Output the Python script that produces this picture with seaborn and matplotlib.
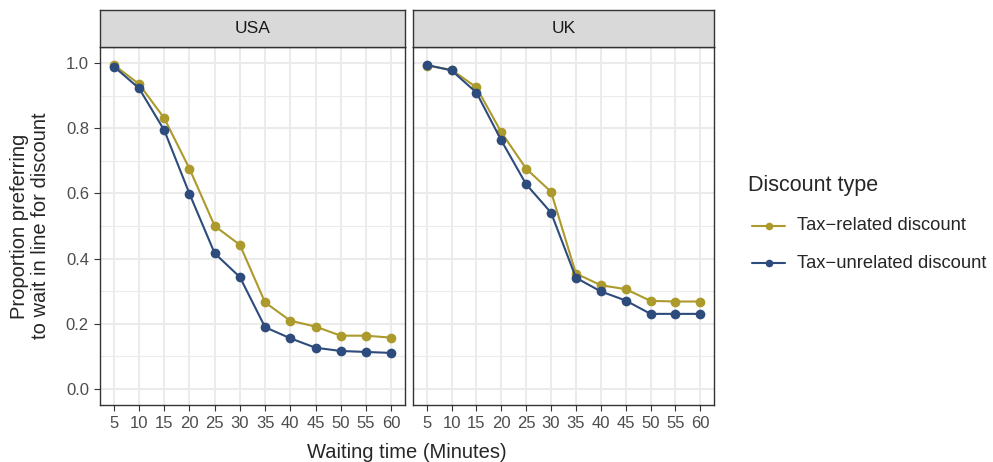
import numpy as np
import pandas as pd
import seaborn as sns
import matplotlib.pyplot as plt
from matplotlib.ticker import MultipleLocator

# data
waiting = [5, 10, 15, 20, 25, 30, 35, 40, 45, 50, 55, 60]
countries = ["USA", "UK"]
discount_types = ["Tax\u2212related discount", "Tax\u2212unrelated discount"]

usa_related = [0.995, 0.936, 0.831, 0.676, 0.500, 0.442, 0.265, 0.209, 0.191, 0.163, 0.163, 0.157]
usa_unrelated = [0.990, 0.923, 0.794, 0.599, 0.416, 0.343, 0.189, 0.155, 0.126, 0.116, 0.113, 0.110]
uk_related = [0.993, 0.980, 0.926, 0.788, 0.676, 0.605, 0.354, 0.318, 0.306, 0.270, 0.268, 0.268]
uk_unrelated = [0.995, 0.978, 0.910, 0.763, 0.628, 0.541, 0.341, 0.299, 0.271, 0.230, 0.230, 0.230]

palette = {discount_types[0]: "#AC9A2C", discount_types[1]: "#2D4B7C"}

rows = []
for country, rel, unrel in [("USA", usa_related, usa_unrelated), ("UK", uk_related, uk_unrelated)]:
    for w, a, b in zip(waiting, rel, unrel):
        rows.append({"country": country, "wait": w, "type": discount_types[0], "prop": a})
        rows.append({"country": country, "wait": w, "type": discount_types[1], "prop": b})
df = pd.DataFrame(rows)

sns.set_theme(style="white")
plt.rcParams["font.family"] = ["Liberation Sans", "DejaVu Sans"]

fig = plt.figure(figsize=(9.93, 4.62), dpi=100)
W, H = 993, 462
panels = [(100, 405), (413, 714)]
top, bottom = 47, 405
strip_top = 10

for i, (country, (x0, x1)) in enumerate(zip(countries, panels)):
    ax = fig.add_axes([x0 / W, 1 - bottom / H, (x1 - x0) / W, (bottom - top) / H])
    sub = df[df["country"] == country]
    sns.lineplot(data=sub, x="wait", y="prop", hue="type", hue_order=discount_types,
                 palette=palette, marker="o", markersize=7, markeredgewidth=0,
                 linewidth=1.5, ax=ax, legend=False)
    ax.set_xlim(2.25, 62.75)
    ax.set_ylim(-0.05, 1.05)
    ax.set_xticks(waiting)
    yt = np.arange(0, 1.01, 0.2)
    ax.set_yticks(yt)
    ax.set_yticklabels([f"{v:.1f}" for v in yt] if i == 0 else [])
    ax.yaxis.set_minor_locator(MultipleLocator(0.1))
    ax.grid(True, which="major", color="#EBEBEB", linewidth=1.5)
    ax.grid(True, which="minor", axis="y", color="#EBEBEB", linewidth=0.8)
    ax.set_axisbelow(True)
    for s in ax.spines.values():
        s.set_color("#333333")
        s.set_linewidth(1.0)
    ax.tick_params(axis="both", which="major", length=4, width=0.8, color="#333333",
                   labelsize=12, labelcolor="#4D4D4D", pad=4, bottom=True, left=True)
    ax.tick_params(axis="y", which="minor", length=0)
    if i > 0:
        ax.tick_params(axis="y", which="major", length=0)
    ax.set_xlabel("")
    ax.set_ylabel("")

    # facet strip
    sax = fig.add_axes([x0 / W, 1 - top / H, (x1 - x0) / W, (top - strip_top) / H])
    sax.set_facecolor("#D9D9D9")
    sax.set_xticks([])
    sax.set_yticks([])
    for s in sax.spines.values():
        s.set_color("#333333")
        s.set_linewidth(1.0)
    sax.text(0.5, 0.5, country, ha="center", va="center", fontsize=12.5,
             color="#1A1A1A", transform=sax.transAxes)

fig.text((100 + 714) / 2 / W, 1 - 452 / H, "Waiting time (Minutes)", ha="center",
         va="center", fontsize=14.5)
fig.text(30 / W, 1 - 226 / H, "Proportion preferring\nto wait in line for discount",
         ha="center", va="center", rotation=90, fontsize=14.5, linespacing=1.1)

# legend
fig.text(748 / W, 1 - 186 / H, "Discount type", ha="left", va="center", fontsize=15.5)
for j, t in enumerate(discount_types):
    yy = 1 - (226 + j * 37) / H
    fig.lines.append(plt.Line2D([752 / W, 785 / W], [yy, yy], transform=fig.transFigure,
                                color=palette[t], linewidth=1.5))
    fig.lines.append(plt.Line2D([768.5 / W], [yy], transform=fig.transFigure,
                                color=palette[t], marker="o", markersize=5.5,
                                markeredgewidth=0))
    fig.text(797 / W, yy, t, ha="left", va="center", fontsize=13.2)

fig.savefig("out.png", dpi=100)
